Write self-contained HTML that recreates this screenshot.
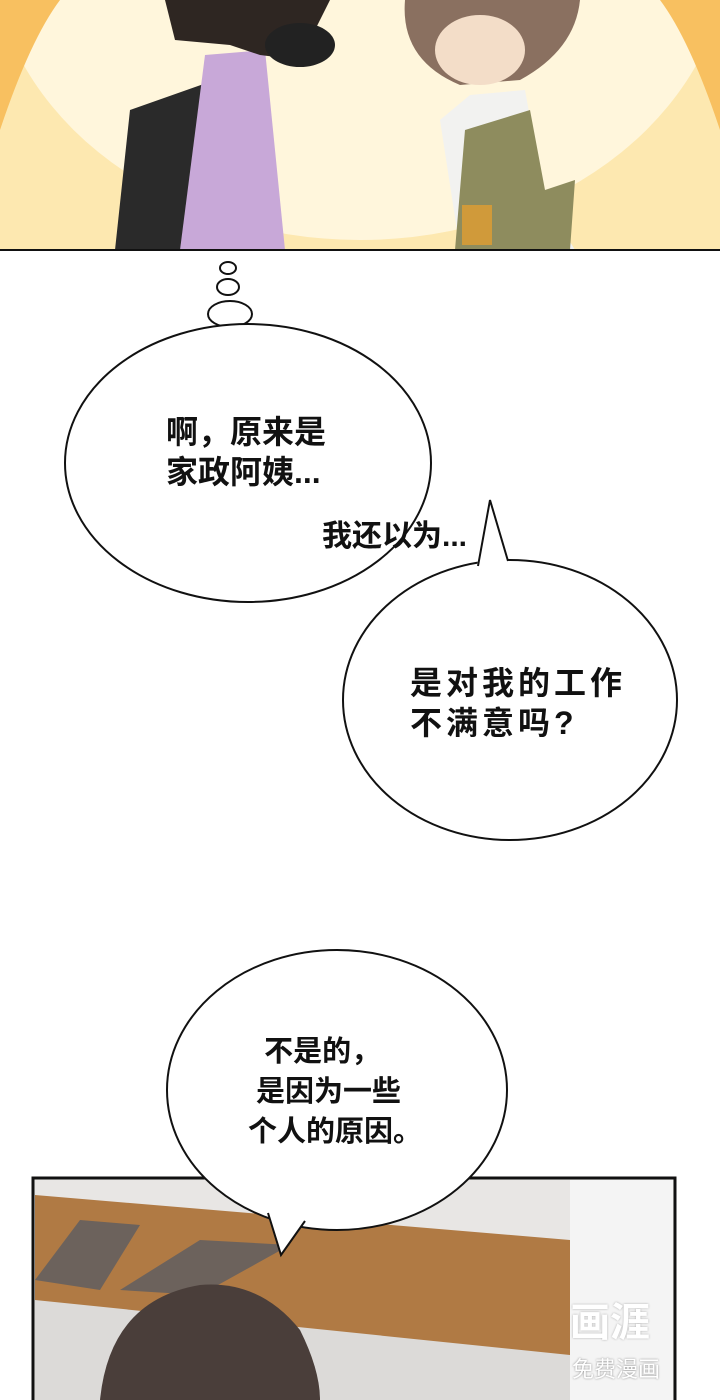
<!DOCTYPE html>
<html><head><meta charset="utf-8"><style>
html,body{margin:0;padding:0;background:#fff;}
body{width:720px;height:1400px;position:relative;overflow:hidden;font-family:"Liberation Sans","Noto Sans CJK SC",sans-serif;}
.t{position:absolute;font-weight:bold;font-size:32px;line-height:40px;color:#111;white-space:nowrap;}
</style></head><body>
<svg width="720" height="1400" style="position:absolute;left:0;top:0">
<rect x="0" y="0" width="720" height="250" fill="#fde8b0"/>
<ellipse cx="360" cy="-60" rx="370" ry="300" fill="#fff6dc"/>
<path d="M0 0 L0 130 Q30 40 60 0Z" fill="#f8c060"/>
<path d="M720 0 L720 130 Q690 40 660 0Z" fill="#f8c060"/>
<path d="M115 250 L130 110 L215 80 L240 250Z" fill="#2a2a2a"/>
<path d="M180 250 L205 55 L265 50 L285 250Z" fill="#c8a8d8"/>
<path d="M165 0 L175 40 L230 45 L260 55 L300 60 L330 0Z" fill="#2e2622"/>
<ellipse cx="300" cy="45" rx="35" ry="22" fill="#222"/>
<path d="M405 0 Q400 60 460 85 L520 80 Q575 50 580 0Z" fill="#8a7060"/>
<ellipse cx="480" cy="50" rx="45" ry="35" fill="#f3ddc8"/>
<path d="M440 120 L470 95 L525 90 L545 200 L575 250 L460 250Z" fill="#f2f2f0"/>
<path d="M455 250 L465 130 L530 110 L545 190 L575 180 L570 250Z" fill="#8e8c5e"/>
<rect x="462" y="205" width="30" height="40" fill="#d09a3a"/>
<line x1="0" y1="250" x2="720" y2="250" stroke="#111" stroke-width="2"/>
<rect x="33" y="1178" width="642" height="230" fill="#e8e6e4" stroke="#111" stroke-width="3"/>
<path d="M35 1195 L570 1240 L570 1370 L35 1310Z" fill="#b07a44"/>
<path d="M80 1220 L140 1225 L100 1290 L35 1280Z" fill="#6c625c"/>
<path d="M200 1240 L290 1245 L200 1295 L120 1290Z" fill="#6c625c"/>
<path d="M35 1300 L570 1355 L570 1400 L35 1400Z" fill="#dcdad8"/>
<rect x="570" y="1180" width="103" height="220" fill="#f4f4f4"/>
<path d="M100 1400 Q110 1300 200 1285 Q260 1280 300 1330 Q320 1370 320 1400Z" fill="#4a3e3a"/>
<ellipse cx="228" cy="268" rx="8" ry="6" fill="#fff" stroke="#111" stroke-width="2"/>
<ellipse cx="228" cy="287" rx="11" ry="8" fill="#fff" stroke="#111" stroke-width="2"/>
<ellipse cx="230" cy="314" rx="22" ry="13" fill="#fff" stroke="#111" stroke-width="2"/>
<ellipse cx="248" cy="463" rx="183" ry="139" fill="#fff" stroke="#111" stroke-width="2"/>
<ellipse cx="510" cy="700" rx="167" ry="140" fill="#fff" stroke="#111" stroke-width="2"/>
<path d="M476 570 L490 500 L510 566Z" fill="#fff"/>
<path d="M478 566 L490 500 L508 561" fill="none" stroke="#111" stroke-width="2"/>
<ellipse cx="337" cy="1090" rx="170" ry="140" fill="#fff" stroke="#111" stroke-width="2"/>
<path d="M266 1208 L281 1255 L308 1216Z" fill="#fff"/>
<path d="M268 1213 L281 1255 L305 1221" fill="none" stroke="#111" stroke-width="2"/>
</svg>
<div class="t" style="left:166px;top:412px">啊，原来是<br>家政阿姨...</div>
<div class="t" style="left:322px;top:517px;font-size:30px">我还以为...</div>
<div class="t" style="left:410px;top:663px;letter-spacing:4px">是对我的工作<br>不满意吗?</div>
<div class="t" style="left:248px;top:1032px;font-size:29px">&nbsp;&nbsp;不是的，<br>&nbsp;是因为一些<br>个人的原因。</div>
<div style="position:absolute;left:570px;top:1290px;font-size:40px;font-weight:bold;color:#fff;text-shadow:0 0 2px #aaa">画涯</div>
<div style="position:absolute;left:572px;top:1352px;font-size:22px;color:#fff;text-shadow:0 0 2px #888">免费漫画</div>
</body></html>
